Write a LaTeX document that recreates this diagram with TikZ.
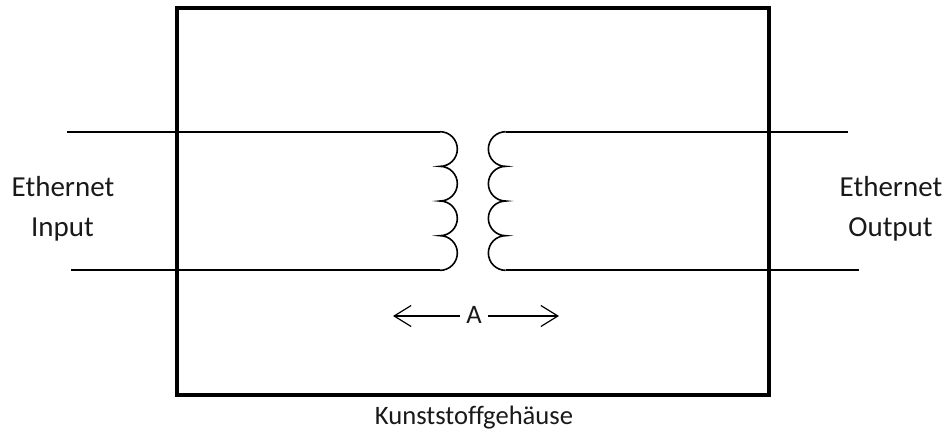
\documentclass[tikz,border=0pt]{standalone}
\usepackage{fontspec}
\setmainfont{Carlito}[Ligatures=NoCommon,Contextuals=NoAlternate]
\usetikzlibrary{arrows.meta}
\tikzset{
  case/.style={line width=4pt,draw=black},
  wire/.style={line width=1.8pt,draw=black,line cap=butt},
  coil/.style={line width=1.6pt,draw=black},
  dimline/.style={line width=1.2pt,draw=black,-{Straight Barb[length=17pt,width=21pt,line width=1.2pt]}},
  lbl/.style={font=\fontsize{29}{34}\selectfont,text=black!90,anchor=base,inner sep=0pt},
  lblsmall/.style={lbl,font=\fontsize{26.6}{32}\selectfont}
}
\begin{document}
\begin{tikzpicture}[x=1pt,y=-1pt]
\useasboundingbox (0,0) rectangle (947,432);
\draw[case] (177,8) rectangle (769,395);
% wire end points
\coordinate (inT) at (67,131.7);
\coordinate (inB) at (71,270.3);
\coordinate (outT) at (847.7,131.7);
\coordinate (outB) at (858.7,270.3);
\coordinate (priT) at (440,131.7);
\coordinate (priB) at (440,270.3);
\coordinate (secT) at (505.7,131.7);
\coordinate (secB) at (505.7,270.3);
\draw[wire] (inT) -- (priT);
\draw[wire] (inB) -- (priB);
\draw[wire] (secT) -- (outT);
\draw[wire] (secB) -- (outB);
% coils
\draw[coil] (priT)
  arc[start angle=90,end angle=-90,radius=17.33pt]
  arc[start angle=90,end angle=-90,radius=17.33pt]
  arc[start angle=90,end angle=-90,radius=17.33pt]
  arc[start angle=90,end angle=-90,radius=17.33pt];
\draw[coil] (secT)
  arc[start angle=90,end angle=270,radius=17.33pt]
  arc[start angle=90,end angle=270,radius=17.33pt]
  arc[start angle=90,end angle=270,radius=17.33pt]
  arc[start angle=90,end angle=270,radius=17.33pt];
% labels
\node[lbl] (ethIn) at (63,196) {Ethernet};
\node[lbl] (input) at (62.5,236.5) {Input};
\node[lbl] (ethOut) at (891,196) {Ethernet};
\node[lbl] (output) at (890.5,236.5) {Output};
\node[lblsmall] (gehaeuse) at (474,424) {Kunststoffgehäuse};
% dimension A
\node[lblsmall,anchor=center,minimum width=28pt,minimum height=20pt] (dimA) at (474,315) {A};
\coordinate (tipL) at (393,316);
\coordinate (tipR) at (559,316);
\draw[dimline] (dimA.west |- tipL) -- (tipL);
\draw[dimline] (dimA.east |- tipR) -- (tipR);
\end{tikzpicture}
\end{document}
